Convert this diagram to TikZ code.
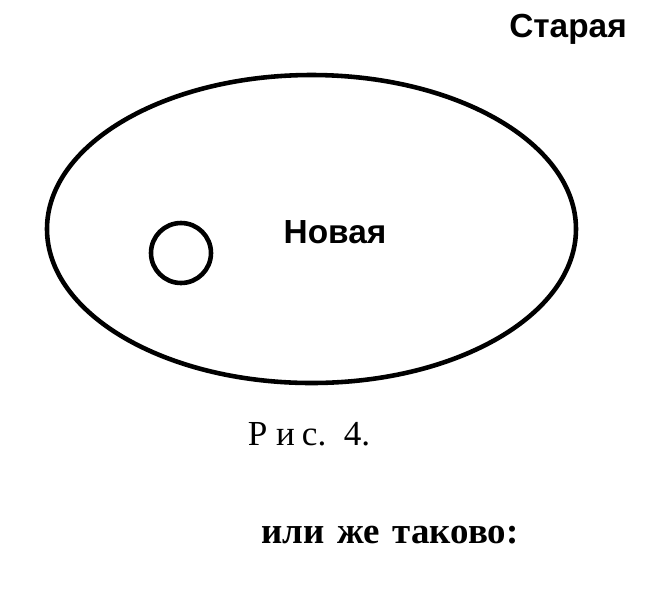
\documentclass[tikz,border=0pt]{standalone}
\usepackage{fontspec}
\setmainfont{Liberation Serif}
\newfontfamily\labelfont{Liberation Sans}
\usetikzlibrary{shapes.geometric, positioning}

\begin{document}
\begin{tikzpicture}[
    region/.style={ellipse, draw, line width=2.6pt, inner sep=0pt},
    spot/.style={circle, draw, line width=2.6pt, inner sep=0pt, minimum size=1.2cm},
    setname/.style={anchor=base, inner sep=0pt, font=\labelfont\bfseries\fontsize{19}{22}\selectfont},
    caption/.style={anchor=base, inner sep=0pt, font=\fontsize{20}{24}\selectfont},
]
\useasboundingbox (0,0) rectangle (13.44,-11.82);

% Sets
\node[region, minimum width=10.58cm, minimum height=6.16cm] (old) at (6.23,-4.58) {};
\node[spot] (point) at (3.62,-5.06) {};

% Labels
\node[setname] (oldname) at (11.36,-0.74) {Старая};
\node[setname] (newname) at (6.70,-4.86) {Новая};

% Captions
\node[caption] (fig) at (6.18,-8.90) {Р\hspace{5pt}и\hspace{4pt}с.\hspace{10pt}4.};
\node[caption, font=\bfseries\fontsize{21}{25}\selectfont] (text) at (7.80,-10.86) {или\hspace{2pt} же\hspace{2pt} таково:};

\end{tikzpicture}
\end{document}
